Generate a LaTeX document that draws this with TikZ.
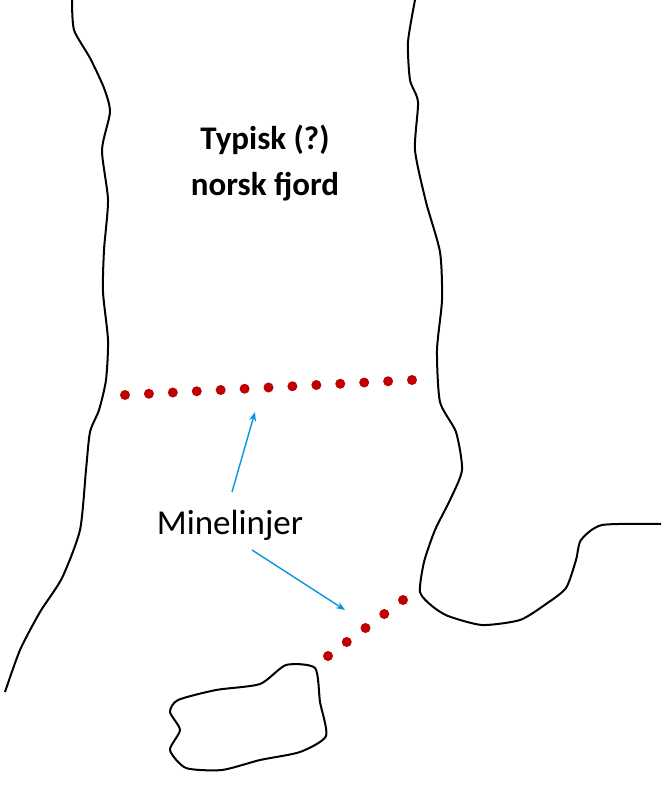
\documentclass[tikz,border=0pt]{standalone}
\usepackage{fontspec}
\setmainfont{Carlito}
\tikzset{
  coast/.style={black, line width=2pt, line join=round},
  mine/.style={fill=red!75!black, draw=none},
  pil/.style={cyan!80!blue, line width=1.4pt, -{Stealth[length=9pt, width=7pt, open]}}
}
\usetikzlibrary{arrows.meta}
\begin{document}
\begin{tikzpicture}[x=1pt, y=-1pt]
    \useasboundingbox (0,0) rectangle (661,792);

    % Kyst venstre
    \draw[coast] plot[smooth, tension=0.4] coordinates {(72,0) (74,30) (90,58) (104,88) (110,112) (102,150) (108,200) (104,250) (103,292) (108,340) (106,380) (99,410) (90,432) (86,470) (80,530) (62,578) (40,612) (20,650) (5,692)};
    % Kyst hoyre
    \draw[coast] plot[smooth, tension=0.4] coordinates {(415,0) (408,42) (410,80) (418,102) (415,150) (426,202) (440,252) (442,300) (437,350) (440,402) (456,432) (462,470) (450,500) (435,530) (424,562) (420,592) (432,606) (448,616) (482,625) (520,620) (546,604) (566,588) (576,560) (581,540) (602,525) (661,524)};
    % Oy
    \draw[coast] plot[smooth cycle, tension=0.4] coordinates {(178,700) (216,690) (260,684) (286,665) (315,668) (320,702) (326,736) (300,752) (260,760) (222,770) (186,768) (170,750) (180,730) (170,712)};

    % Minelinjer
    \foreach \i in {0,...,12}
        \fill[mine] ({125+\i*287/12},{395-\i*15/12}) circle (5);
    \foreach \i in {0,...,4}
        \fill[mine] ({328+\i*75/4},{656-\i*56/4}) circle (5);

    % Tekst
    \node[font=\fontsize{33}{46}\selectfont\bfseries, align=center] (tittel) at (265,163) {Typisk (?)\\norsk fjord};
    \node[font=\fontsize{35}{40}\selectfont] (minelinjer) at (230,525) {Minelinjer};

    % Piler
    \coordinate (linjeA) at (255,412);
    \coordinate (linjeB) at (345,610);
    \draw[pil] (232,492) -- (linjeA);
    \draw[pil] (252,550) -- (linjeB);
\end{tikzpicture}
\end{document}
